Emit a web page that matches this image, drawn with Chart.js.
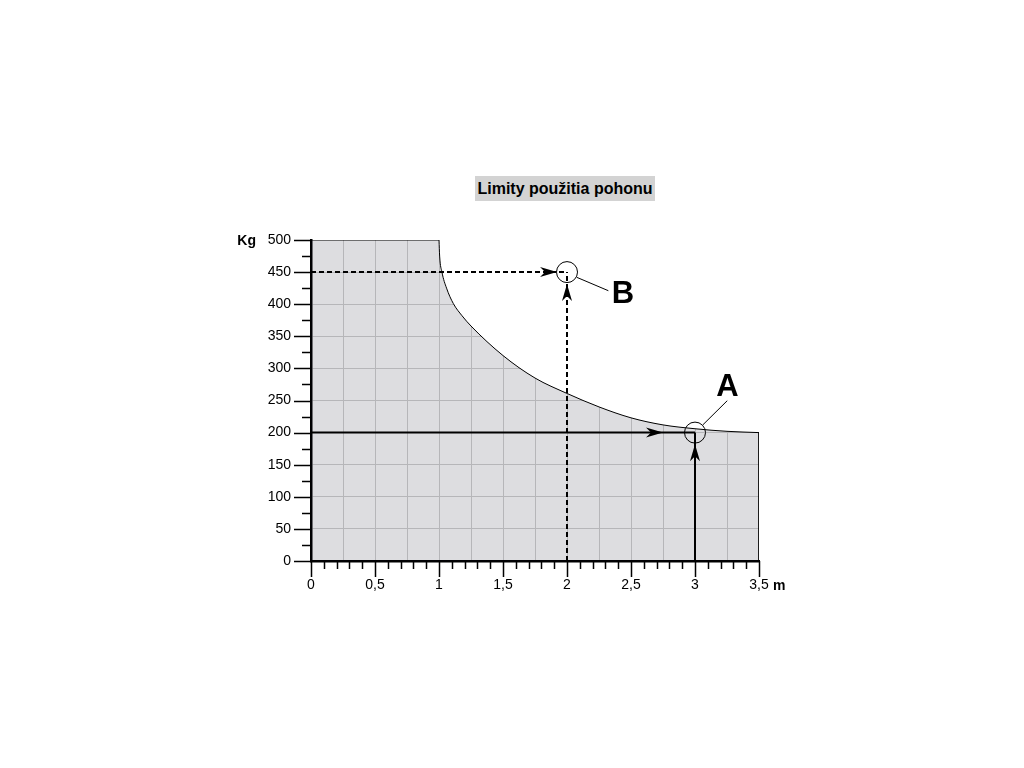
<!DOCTYPE html>
<html><head><meta charset="utf-8">
<script src="https://cdn.jsdelivr.net/npm/chart.js@4.4.1/dist/chart.umd.min.js"></script>
<style>
html,body{margin:0;padding:0;background:#fff;}
#wrap{position:relative;width:1024px;height:768px;}
#title{position:absolute;left:475px;top:176px;width:180px;height:25px;background:#d3d3d3;font:bold 16px "Liberation Sans",Arial,sans-serif;line-height:26px;text-align:center;color:#000;white-space:nowrap;}
canvas{position:absolute;left:0;top:0;}
</style></head><body>
<div id="wrap"><canvas id="c" width="1024" height="768"></canvas><div id="title">Limity použitia pohonu</div></div>
<script>
// ---- data ----
const topX = [0, 1.0];
const topY = [500, 500];
const limitX = [1.0, 1.005, 1.023, 1.059, 1.112, 1.18, 1.25, 1.5, 1.75, 2.0, 2.25, 2.5, 2.75, 3.0, 3.25, 3.5];
const limitY = [500, 475, 450, 425, 401, 382, 366, 320, 285, 261, 240, 223, 212, 206, 202, 200];
const edgeX = [3.5, 3.5];
const edgeY = [200, 0];

const pointNames = ['A', 'B'];
const pointX = [3, 2];
const pointY = [200, 450];

const lineAHorizX = [0, 3];   const lineAHorizY = [200, 200];
const lineAVertX  = [3, 3];   const lineAVertY  = [0, 200];
const lineBHorizX = [0, 2];   const lineBHorizY = [450, 450];
const lineBVertX  = [2, 2];   const lineBVertY  = [0, 450];

const leaderAX = [3.06, 3.252];  const leaderAY = [211.8, 249.7];
const leaderBX = [2.076, 2.323]; const leaderBY = [441.9, 421];
const labelX = [3.254, 2.4375];
const labelY = [272.6, 417.4];

const arrowTipX = [2.75, 3, 1.922, 2];
const arrowTipY = [200, 182, 450, 431.5];
const arrowDir  = ['right', 'up', 'right', 'up'];

const xMajorTicks = [0, 0.5, 1, 1.5, 2, 2.5, 3, 3.5];
const xMinorTicks = [0.1, 0.2, 0.3, 0.4, 0.6, 0.7, 0.8, 0.9, 1.1, 1.2, 1.3, 1.4, 1.6, 1.7, 1.8, 1.9,
                     2.1, 2.2, 2.3, 2.4, 2.6, 2.7, 2.8, 2.9, 3.1, 3.2, 3.3, 3.4];
const yMajorTicks = [0, 50, 100, 150, 200, 250, 300, 350, 400, 450, 500];
const yMinorTicks = [25, 75, 125, 175, 225, 275, 325, 375, 425, 475];
const yAxisTitle = 'Kg';
const xAxisTitle = 'm';

// ---- helpers ----
const zip = (xs, ys) => xs.map((x, i) => ({x: x, y: ys[i]}));
const FONT = '"Liberation Sans", Arial, Helvetica, sans-serif';
const AREA = 'rgba(0,0,20,0.135)';

const plainLine = (data, dash, width) => ({
  data: data, borderColor: '#000', borderWidth: width, borderDash: dash,
  pointRadius: 0, fill: false, tension: 0
});

const decorPlugin = {
  id: 'decor',
  afterDatasetsDraw(chart) {
    const ctx = chart.ctx;
    const xs = chart.scales.x, ys = chart.scales.y;
    ctx.save();
    ctx.fillStyle = '#000';
    arrowTipX.forEach((tx, i) => {
      const px = xs.getPixelForValue(tx), py = ys.getPixelForValue(arrowTipY[i]);
      const d = arrowDir[i] === 'right' ? [1, 0] : [0, -1];
      const n = [-d[1], d[0]];
      const L = 17, W = 5, N = 12;
      ctx.beginPath();
      ctx.moveTo(px, py);
      ctx.lineTo(px - d[0] * L + n[0] * W, py - d[1] * L + n[1] * W);
      ctx.lineTo(px - d[0] * N, py - d[1] * N);
      ctx.lineTo(px - d[0] * L - n[0] * W, py - d[1] * L - n[1] * W);
      ctx.closePath();
      ctx.fill();
    });
    ctx.font = 'bold 31px ' + FONT;
    ctx.textAlign = 'center';
    ctx.textBaseline = 'middle';
    pointNames.forEach((name, i) => {
      ctx.fillText(name, xs.getPixelForValue(labelX[i]), ys.getPixelForValue(labelY[i]) + 1);
    });
    ctx.restore();
  },
  afterDraw(chart) {
    const ctx = chart.ctx;
    const xs = chart.scales.x, ys = chart.scales.y;
    const ca = chart.chartArea;
    ctx.save();
    ctx.strokeStyle = '#000';
    ctx.lineWidth = 1.5;
    ctx.beginPath();
    xMajorTicks.forEach(v => { const p = Math.round(xs.getPixelForValue(v)) + 0.5; ctx.moveTo(p, ca.bottom); ctx.lineTo(p, ca.bottom + 16); });
    xMinorTicks.forEach(v => { const p = Math.round(xs.getPixelForValue(v)) + 0.5; ctx.moveTo(p, ca.bottom); ctx.lineTo(p, ca.bottom + 8); });
    yMajorTicks.forEach(v => { const p = Math.round(ys.getPixelForValue(v)) + 0.5; ctx.moveTo(ca.left, p); ctx.lineTo(ca.left - 17, p); });
    yMinorTicks.forEach(v => { const p = Math.round(ys.getPixelForValue(v)) + 0.5; ctx.moveTo(ca.left, p); ctx.lineTo(ca.left - 9, p); });
    ctx.stroke();
    ctx.fillStyle = '#000';
    ctx.font = 'bold 14px ' + FONT;
    ctx.textBaseline = 'middle';
    ctx.textAlign = 'right';
    ctx.fillText(yAxisTitle, ca.left - 55, ys.getPixelForValue(500) + 1);
    ctx.textAlign = 'left';
    ctx.fillText(xAxisTitle, xs.getPixelForValue(3.5) + 14, ca.bottom + 25);
    ctx.restore();
  }
};

new Chart(document.getElementById('c'), {
  type: 'line',
  data: {
    datasets: [
      { data: zip(pointX, pointY), showLine: false, pointRadius: 10.5, pointStyle: 'circle',
        pointBackgroundColor: 'rgba(0,0,0,0)', pointBorderColor: '#000', pointBorderWidth: 1, pointHoverRadius: 10.5 },
      plainLine(zip(leaderAX, leaderAY), [], 1),
      plainLine(zip(leaderBX, leaderBY), [], 1),
      plainLine(zip(lineAHorizX, lineAHorizY), [], 2),
      plainLine(zip(lineAVertX, lineAVertY), [], 2),
      plainLine(zip(lineBHorizX, lineBHorizY), [5, 3], 2),
      plainLine(zip(lineBVertX, lineBVertY), [5, 3], 2),
      plainLine(zip(edgeX, edgeY), [], 1),
      { data: zip(topX, topY), borderColor: '#000', borderWidth: 1, pointRadius: 0, tension: 0,
        fill: 'origin', backgroundColor: AREA },
      { data: zip(limitX, limitY), borderColor: '#000', borderWidth: 1, pointRadius: 0,
        cubicInterpolationMode: 'monotone', fill: 'origin', backgroundColor: AREA },
      { data: zip(limitX, limitY), borderWidth: 0, borderColor: 'rgba(0,0,0,0)', pointRadius: 0,
        cubicInterpolationMode: 'monotone', fill: 'end', backgroundColor: '#ffffff' }
    ]
  },
  plugins: [decorPlugin],
  options: {
    responsive: false,
    animation: false,
    devicePixelRatio: 1,
    events: [],
    layout: { padding: { top: 240, right: 265, bottom: 0, left: 0 } },
    plugins: { legend: { display: false }, tooltip: { enabled: false }, title: { display: false } },
    scales: {
      x: {
        type: 'linear', min: 0, max: 3.5,
        afterFit: s => { s.height = 207; },
        grid: {
          drawTicks: false, lineWidth: 1,
          color: c => (c.tick && (c.tick.value === 0 || c.tick.value === 3.5)) ? 'rgba(0,0,0,0)' : '#d2d2d2'
        },
        border: { display: true, color: '#000', width: 2.5 },
        ticks: {
          stepSize: 0.25, autoSkip: false, maxRotation: 0, padding: 16, color: '#000',
          font: { family: FONT, size: 14 },
          callback: v => (Math.abs(v * 2 - Math.round(v * 2)) < 1e-9) ? String(v).replace('.', ',') : ''
        }
      },
      y: {
        type: 'linear', min: 0, max: 500,
        afterFit: s => { s.width = 311; },
        grid: {
          drawTicks: false, lineWidth: 1,
          color: c => (c.tick && (c.tick.value === 0 || c.tick.value === 500)) ? 'rgba(0,0,0,0)' : '#d2d2d2'
        },
        border: { display: true, color: '#000', width: 2.5 },
        ticks: { stepSize: 50, padding: 20, color: '#000', font: { family: FONT, size: 14 } }
      }
    }
  }
});
</script>
</body></html>
